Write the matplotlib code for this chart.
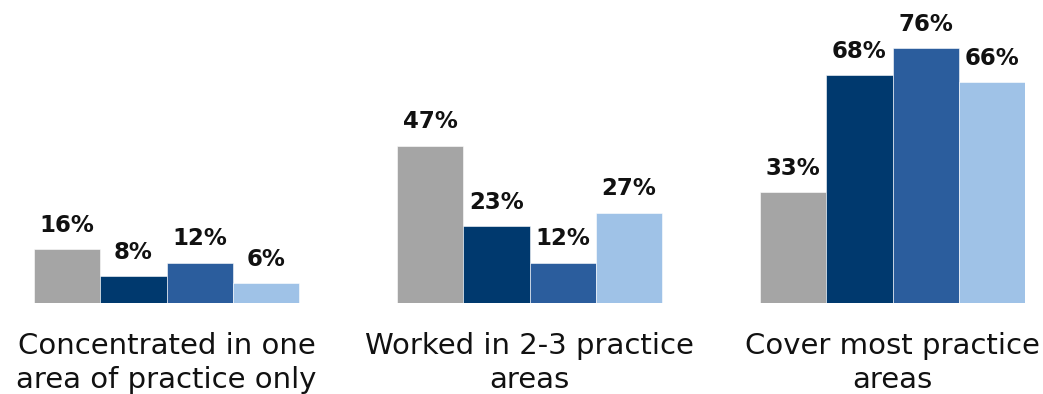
import matplotlib
matplotlib.use("Agg")
import matplotlib.pyplot as plt
import numpy as np

# Share of respondents by breadth of practice, four series per group
categories = ["Concentrated in one\narea of practice only",
              "Worked in 2-3 practice\nareas",
              "Cover most practice\nareas"]
series_a = [16, 47, 33]
series_b = [8, 23, 68]
series_c = [12, 12, 76]
series_d = [6, 27, 66]
series = [series_a, series_b, series_c, series_d]
colors = ["#A5A5A5", "#00396E", "#2B5D9D", "#9FC2E7"]

plt.rcParams['font.family'] = ['DejaVu Sans']

W, H = 1043, 394
PX_PER_PCT = 3.35
fig = plt.figure(figsize=(W / 100, H / 100), dpi=100)
left, right, bottom_px = 34, 1025, 303
ax = fig.add_axes([left / W, (H - bottom_px) / H, (right - left) / W, bottom_px / H])

bar_w = 66.25 / 363
x = np.arange(len(categories))
offsets = (np.arange(4) - 1.5) * bar_w
for vals, off, col in zip(series, offsets, colors):
    bars = ax.bar(x + off, vals, width=bar_w, color=col, edgecolor="white", linewidth=0.4)
    for b, v in zip(bars, vals):
        ax.annotate(f"{v}%", (b.get_x() + b.get_width() / 2, v),
                    xytext=(0, 12.5), textcoords="offset points",
                    ha="center", va="baseline", fontsize=16.5, fontweight="bold",
                    color="#111111")

ax.set_xlim(-2 * bar_w, 2 + 2 * bar_w)
ax.set_ylim(0, bottom_px / PX_PER_PCT)
ax.axis("off")

label_base = -(388 - bottom_px) / PX_PER_PCT
for xi, cat in zip(x, categories):
    ax.text(xi, label_base, cat, ha="center", va="baseline", fontsize=21,
            color="#111111", linespacing=1.27)

fig.savefig("out.png", dpi=100)
